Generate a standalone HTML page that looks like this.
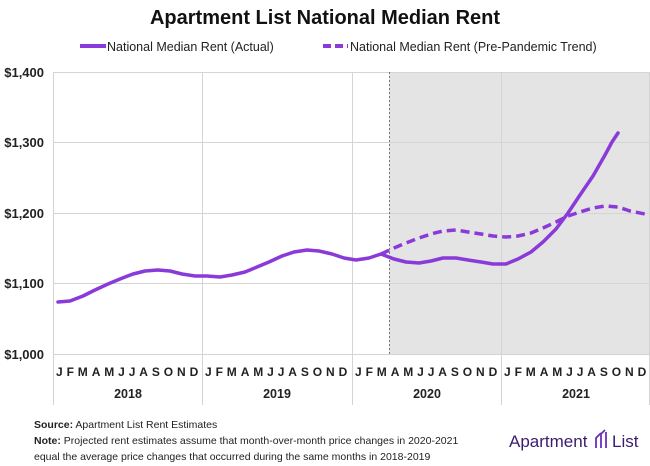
<!DOCTYPE html><html><head><meta charset="utf-8"><style>body{margin:0;background:#fff}svg{display:block;font-family:"Liberation Sans",sans-serif}</style></head><body>
<svg width="650" height="466" viewBox="0 0 650 466">
<text x="325" y="24" text-anchor="middle" font-size="20" font-weight="bold" fill="#111">Apartment List National Median Rent</text>
<line x1="80" y1="46" x2="106" y2="46" stroke="#8a3ad8" stroke-width="4"/>
<text x="107" y="51" font-size="12.5" fill="#222">National Median Rent (Actual)</text>
<line x1="323" y1="46" x2="348" y2="46" stroke="#8a3ad8" stroke-width="4" stroke-dasharray="8,4"/>
<text x="350" y="51" font-size="12.5" fill="#222">National Median Rent (Pre-Pandemic Trend)</text>
<rect x="389" y="72" width="261" height="282" fill="#e4e4e4"/>
<g stroke="#d4d4d4" stroke-width="1">
<line x1="53" y1="72.5" x2="650" y2="72.5"/><line x1="53" y1="142.5" x2="650" y2="142.5"/><line x1="53" y1="213.5" x2="650" y2="213.5"/><line x1="53" y1="283.5" x2="650" y2="283.5"/><line x1="53" y1="354.5" x2="650" y2="354.5"/>
<line x1="53.5" y1="72" x2="53.5" y2="405"/><line x1="202.5" y1="72" x2="202.5" y2="405"/><line x1="352.5" y1="72" x2="352.5" y2="405"/><line x1="501.5" y1="72" x2="501.5" y2="405"/><line x1="649.5" y1="72" x2="649.5" y2="405"/>
</g>
<line x1="389.5" y1="72" x2="389.5" y2="354" stroke="#777" stroke-dasharray="2,2"/>
<g font-size="13" font-weight="bold" fill="#222" text-anchor="end">
<text x="44" y="77">$1,400</text><text x="44" y="147">$1,300</text><text x="44" y="218">$1,200</text><text x="44" y="288">$1,100</text><text x="44" y="359">$1,000</text></g>
<g font-size="12" font-weight="bold" fill="#222" letter-spacing="3.9">
<text x="56" y="376">JFMAMJJASOND</text><text x="205" y="376">JFMAMJJASOND</text><text x="355" y="376">JFMAMJJASOND</text><text x="504" y="376">JFMAMJJASOND</text></g>
<g font-size="12.5" font-weight="bold" fill="#222" text-anchor="middle">
<text x="128" y="398">2018</text><text x="277" y="398">2019</text><text x="427" y="398">2020</text><text x="576" y="398">2021</text></g>
<polyline fill="none" stroke="#8a3ad8" stroke-width="3.5" stroke-linejoin="round" stroke-linecap="round" points="58,302 70,301 83,296 95,290 108,284 120,279 133,274 145,271 158,270 170,271 182,274 195,276 207,276 220,277 232,275 245,272 257,267 269,262 282,256 294,252 307,250 319,251 332,254 344,258 356,260 369,258 381,254 394,259 406,262 419,263 431,261 443,258 456,258 468,260 481,262 493,264 506,264 518,259 531,252 543,242 556,229 568,213 580,195 593,176 605,155 612,142 618,133"/>
<polyline fill="none" stroke="#8a3ad8" stroke-width="3.5" stroke-dasharray="9,5" stroke-linejoin="round" points="381,254 394,248 406,243 419,238 431,234 443,231 456,230 468,232 481,234 493,236 506,237 518,236 531,233 543,228 556,222 568,216 580,212 593,208 605,206 618,207 630,211 645,214"/>
<text x="34" y="428" font-size="10.5" fill="#222"><tspan font-weight="bold">Source:</tspan> Apartment List Rent Estimates</text>
<text x="34" y="444" font-size="10.5" fill="#222"><tspan font-weight="bold">Note:</tspan> Projected rent estimates assume that month-over-month price changes in 2020-2021</text>
<text x="34" y="460" font-size="10.5" fill="#222">equal the average price changes that occurred during the same months in 2018-2019</text>
<text x="509" y="447" font-size="17" fill="#3b1c6e">Apartment</text>
<g fill="none" stroke="#6a2fc0" stroke-width="1.8"><path d="M596 448 v-10 l5 -5"/><path d="M601 448 v-14 l4 -4"/><path d="M606 448 v-16"/></g>
<text x="612" y="447" font-size="17" fill="#3b1c6e">List</text>
</svg></body></html>
